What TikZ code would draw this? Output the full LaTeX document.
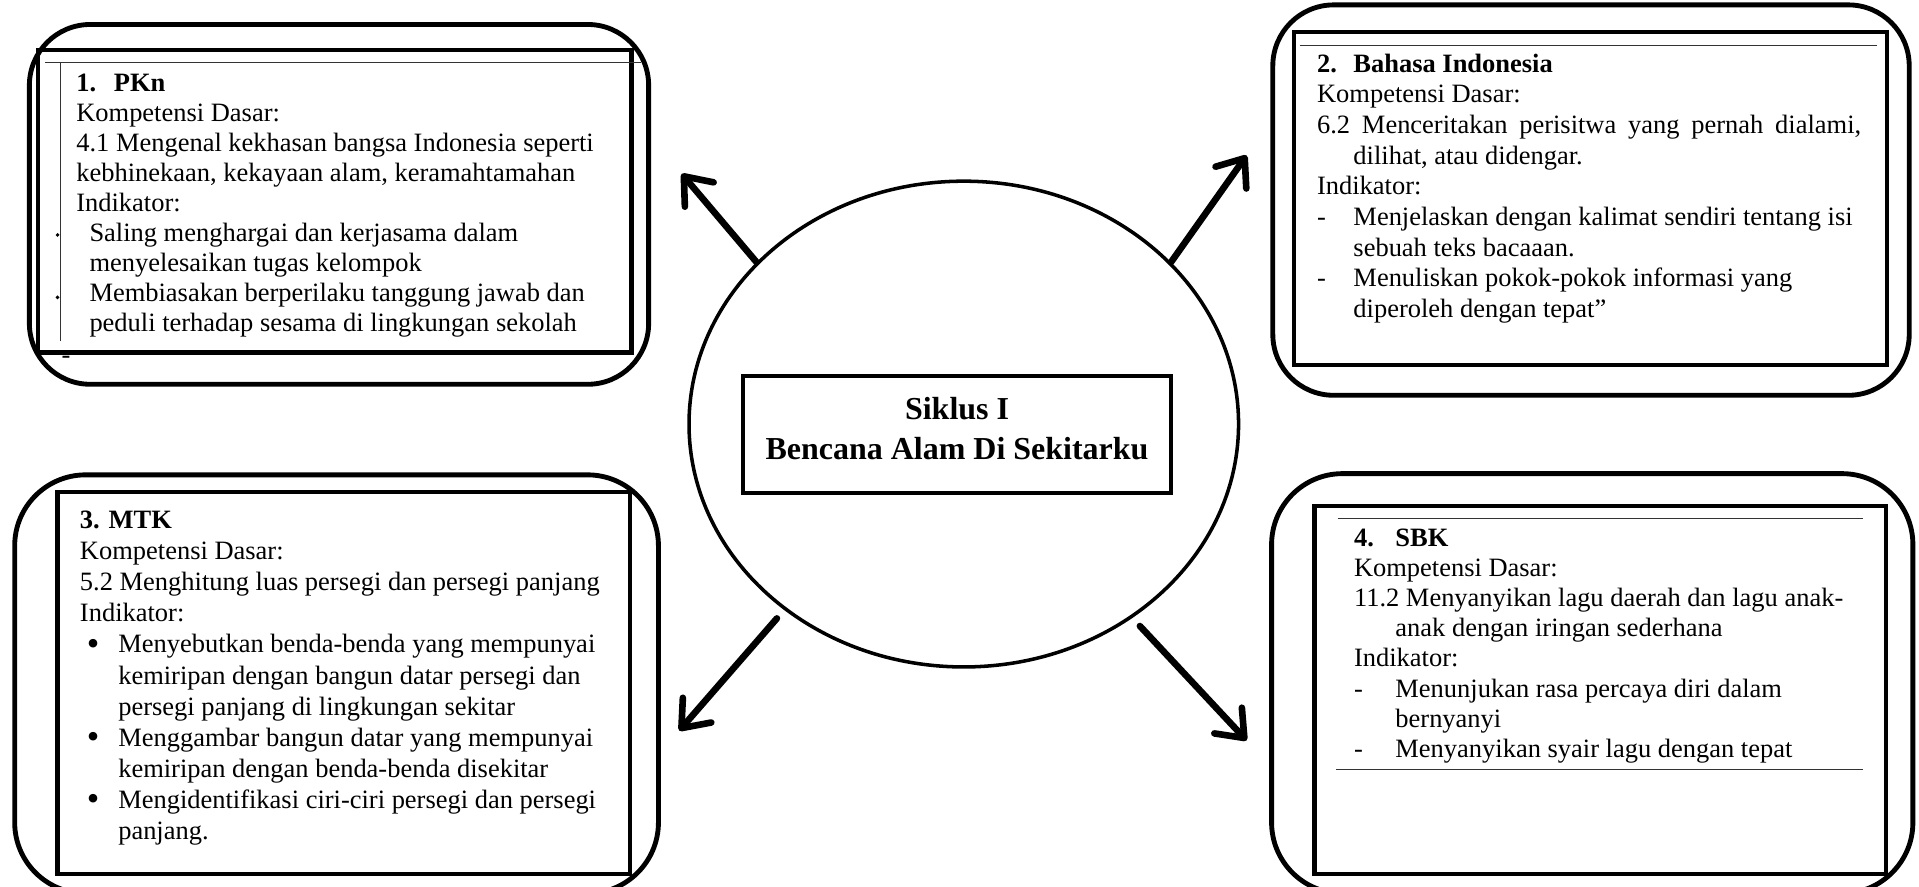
\documentclass[tikz,border=0pt]{standalone}
\usepackage{fontspec}
\setmainfont{Liberation Serif}
\usepackage{graphicx}
\usepackage{tikz}
\usetikzlibrary{shapes.geometric}
\usetikzlibrary{arrows.meta}
\usetikzlibrary{fit}
\tikzset{
  kotakLuar/.style = {draw, line width=2.2pt, rounded corners=0.97cm, inner sep=0pt},
  kotakDalam/.style = {draw, line width=1.9pt, inner sep=0pt},
  isi/.style = {anchor=base west, align=left, inner sep=0pt, font=\fontsize{12}{#1}\selectfont},
  garisTipis/.style = {line width=0.6pt, black!80},
  panah/.style = {line width=3pt, line cap=round, -{Straight Barb[round, length=0.38cm, width=0.6cm]}}
}
\newcommand{\gantung}[1]{\hspace*{#1}}
\newcommand{\tanda}[2]{\makebox[#1][l]{#2}}
\newcommand{\bulat}{\raisebox{-0.2ex}{\scalebox{1.35}{\textbullet}}}

\begin{document}
\begin{tikzpicture}[x=0.0195cm, y=-0.0195cm]
  \useasboundingbox (0,0) rectangle (1568,724);
  \clip (0,0) rectangle (1568,724);

  % tengah
  \node[ellipse, draw, line width=1.6pt, inner sep=0pt, minimum width=8.756cm, minimum height=7.74cm] (siklus) at (787.5,346.5) {};
  \node[draw, line width=1.8pt, fit={(607,307) (957,403)}, inner sep=0pt] (judul) {};
  \node[align=center, inner sep=0pt, font=\fontsize{14.5}{18}\selectfont\bfseries] (judulTeks) at (782,350) {Siklus I\\Bencana Alam Di Sekitarku};

  % 1. PKn (base = baris terakhir)
  \node[kotakLuar, fit={(24,20) (530,314)}] (pknLuar) {};
  \node[kotakDalam, fit={(31,41) (516,288)}] (pknDalam) {};
  \draw[garisTipis] (37,50.8) -- (524,50.8);
  \draw[garisTipis] (49.6,50.8) -- (49.6,279);
  \fill (47,192) circle (0.9pt);
  \fill (47,243) circle (0.9pt);
  \node[isi=13.6pt] (pknStrip) at (50,297) {-};
  \node[isi=13.6pt] (pknTeks) at (62,270.5) {\textbf{\tanda{0.6cm}{1.}PKn}\\
    Kompetensi Dasar:\\
    4.1 Mengenal kekhasan bangsa Indonesia seperti\\
    kebhinekaan, kekayaan alam, keramahtamahan\\
    Indikator:\\
    \gantung{0.21cm}Saling menghargai dan kerjasama dalam\\
    \gantung{0.21cm}menyelesaikan tugas kelompok\\
    \gantung{0.21cm}Membiasakan berperilaku tanggung jawab dan\\
    \gantung{0.21cm}peduli terhadap sesama di lingkungan sekolah};

  % 2. Bahasa Indonesia
  \node[kotakLuar, fit={(1040,4) (1560,323)}] (biLuar) {};
  \node[kotakDalam, fit={(1057,26) (1542,298)}] (biDalam) {};
  \draw[garisTipis] (1062,37) -- (1534,37);
  \node[isi=13.9pt] (biTeks) at (1075.8,259.3) {\textbf{\tanda{0.58cm}{2.}Bahasa Indonesia}\\
    Kompetensi Dasar:\\
    \makebox[8.67cm][s]{6.2 Menceritakan perisitwa yang pernah dialami,}\\
    \gantung{0.58cm}dilihat, atau didengar.\\
    Indikator:\\
    \tanda{0.58cm}{-}Menjelaskan dengan kalimat sendiri tentang isi\\
    \gantung{0.58cm}sebuah teks bacaaan.\\
    \tanda{0.58cm}{-}Menuliskan pokok-pokok informasi yang\\
    \gantung{0.58cm}diperoleh dengan tepat''};

  % 3. MTK
  \node[kotakLuar, rounded corners=1.13cm, fit={(12,388) (538,730)}] (mtkLuar) {};
  \node[kotakDalam, fit={(47,402) (515,714)}] (mtkDalam) {};
  \node[isi=14.1pt] (mtkTeks) at (65,686) {\textbf{3. MTK}\\
    Kompetensi Dasar:\\
    5.2 Menghitung luas persegi dan persegi panjang\\
    Indikator:\\
    \gantung{0.11cm}\tanda{0.5cm}{\bulat}Menyebutkan benda-benda yang mempunyai\\
    \gantung{0.61cm}kemiripan dengan bangun datar persegi dan\\
    \gantung{0.61cm}persegi panjang di lingkungan sekitar\\
    \gantung{0.11cm}\tanda{0.5cm}{\bulat}Menggambar bangun datar yang mempunyai\\
    \gantung{0.61cm}kemiripan dengan benda-benda disekitar\\
    \gantung{0.11cm}\tanda{0.5cm}{\bulat}Mengidentifikasi ciri-ciri persegi dan persegi\\
    \gantung{0.61cm}panjang.};

  % 4. SBK
  \node[kotakLuar, rounded corners=1.13cm, fit={(1039,387) (1563,730)}] (sbkLuar) {};
  \node[kotakDalam, fit={(1074,413.5) (1541,714)}] (sbkDalam) {};
  \draw[garisTipis] (1093,423.5) -- (1522,423.5);
  \draw[garisTipis] (1092,629) -- (1522,629);
  \node[isi=13.7pt] (sbkTeks) at (1106,619) {\textbf{\tanda{0.66cm}{4.}SBK}\\
    Kompetensi Dasar:\\
    11.2 Menyanyikan lagu daerah dan lagu anak-\\
    \gantung{0.66cm}anak dengan iringan sederhana\\
    Indikator:\\
    \tanda{0.66cm}{-}Menunjukan rasa percaya diri dalam\\
    \gantung{0.66cm}bernyanyi\\
    \tanda{0.66cm}{-}Menyanyikan syair lagu dengan tepat};

  % panah
  \coordinate (ujungPKn) at (557,142);
  \coordinate (ujungBI) at (1018.6,127);
  \coordinate (ujungMTK) at (555,597);
  \coordinate (ujungSBK) at (1018.6,605);
  \draw[panah] (siklus.142) -- (ujungPKn);
  \draw[panah] (siklus.38.5) -- (ujungBI);
  \draw[panah, shorten <=5pt] (siklus.226) -- (ujungMTK);
  \draw[panah, shorten <=5pt] (siklus.311.7) -- (ujungSBK);
\end{tikzpicture}
\end{document}
